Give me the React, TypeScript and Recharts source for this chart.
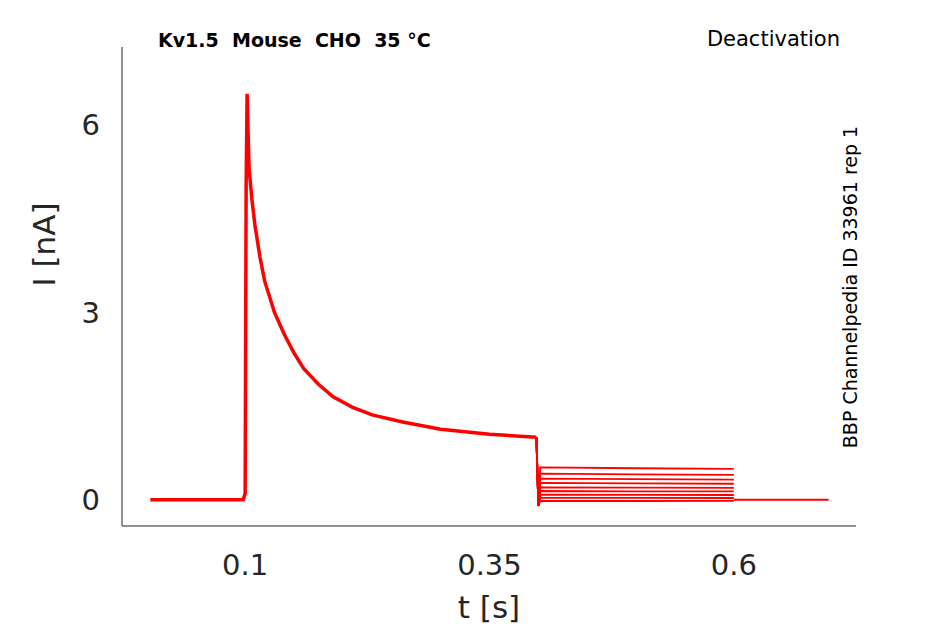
import React from "react";
import { LineChart, Line, XAxis, YAxis } from "recharts";

const mainT = [0.003, 0.05, 0.098, 0.1, 0.101, 0.102, 0.104, 0.107, 0.11, 0.115, 0.12, 0.13, 0.14, 0.15, 0.16, 0.175, 0.19, 0.21, 0.23, 0.26, 0.3, 0.35, 0.398];
const mainI = [0, 0, 0, 0.1, 5.0, 6.5, 5.3, 4.8, 4.4, 3.9, 3.5, 3.0, 2.65, 2.35, 2.1, 1.85, 1.65, 1.48, 1.36, 1.25, 1.13, 1.05, 1.0];
const tailLevels = [0.52, 0.42, 0.34, 0.27, 0.2, 0.14, 0.08, 0.03, -0.02];
const tailT = [0.4, 0.402, 0.5, 0.6];
const tailShape = [0.0, 1.0, 0.97, 0.95];
const postT = [0.6, 0.65, 0.697];
const postI = [0, 0, 0];
const xTicks = [0.1, 0.35, 0.6];
const yTicks = [0, 3, 6];

const mainData = mainT.map((t, i) => ({ t, v: mainI[i] }));
const tails = tailLevels.map((lvl) =>
  [{ t: 0.398, v: 1.0 }, ...tailT.map((t, i) => ({ t, v: i === 0 ? -0.1 : lvl * tailShape[i] }))]
);
const postData = postT.map((t, i) => ({ t, v: postI[i] }));

const tick = { fill: "#262626", fontSize: 29, fontFamily: "DejaVu Sans" };

export default function App() {
  return (
    <div style={{ position: "fixed", left: 0, top: 0, width: 945, height: 624, background: "#fff" }}>
      <LineChart width={945} height={624} margin={{ top: 47, right: 89, bottom: 0, left: 0 }}>
        <XAxis type="number" dataKey="t" domain={[-0.026, 0.725]} ticks={xTicks} allowDuplicatedCategory={false}
          tickLine={false} stroke="#262626" tick={tick} height={98} tickMargin={22}
          label={{ value: "t [s]", position: "insideBottom", offset: 6, fill: "#262626", fontSize: 31, fontFamily: "DejaVu Sans" }} />
        <YAxis type="number" domain={[-0.42, 7.25]} ticks={yTicks} tickLine={false} stroke="#262626" tick={tick} width={122} tickMargin={16}
          label={{ value: "I [nA]", angle: -90, position: "insideLeft", offset: 44, fill: "#262626", fontSize: 31, fontFamily: "DejaVu Sans" }} />
        <Line data={mainData} dataKey="v" stroke="#ff0000" strokeWidth={3.5} dot={false} isAnimationActive={false} type="linear" />
        {tails.map((d, i) => (
          <Line key={i} data={d} dataKey="v" stroke="#ff0000" strokeWidth={1.8} dot={false} isAnimationActive={false} type="linear" />
        ))}
        <Line data={postData} dataKey="v" stroke="#ff0000" strokeWidth={2} dot={false} isAnimationActive={false} type="linear" />
      </LineChart>
      <svg width={945} height={624} style={{ position: "absolute", left: 0, top: 0, pointerEvents: "none" }}>
        <text x={158} y={47} fontSize={19} fontWeight="bold" fontFamily="DejaVu Sans" fill="#000" style={{ whiteSpace: "pre" }}>{"Kv1.5\u00a0\u00a0Mouse\u00a0\u00a0CHO\u00a0\u00a035 °C"}</text>
        <text x={840} y={46} fontSize={21} textAnchor="end" fontFamily="DejaVu Sans" fill="#000">Deactivation</text>
        <text x={857} y={287} fontSize={19} textAnchor="middle" fontFamily="DejaVu Sans" fill="#000" transform="rotate(-90 857 287)">BBP Channelpedia ID 33961 rep 1</text>
      </svg>
    </div>
  );
}
